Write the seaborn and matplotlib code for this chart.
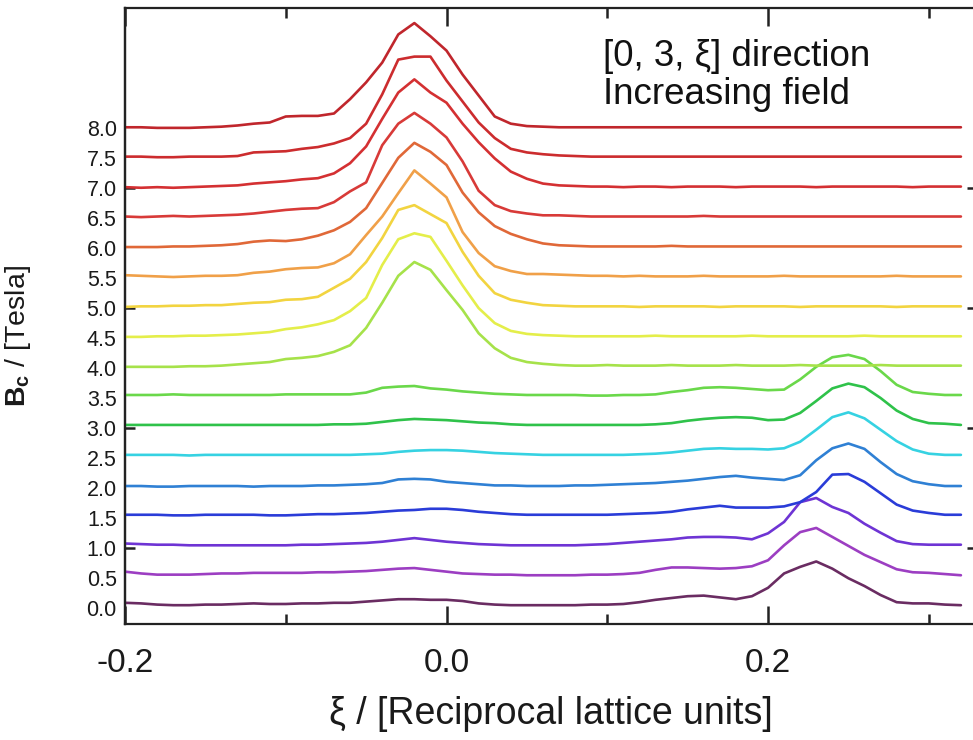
import matplotlib
matplotlib.use("Agg")
import matplotlib.pyplot as plt
import seaborn as sns
import pandas as pd
from matplotlib import font_manager

# ---------------- data ----------------
xi = [-0.20, -0.19, -0.18, -0.17, -0.16, -0.15, -0.14, -0.13, -0.12, -0.11,
      -0.10, -0.09, -0.08, -0.07, -0.06, -0.05, -0.04, -0.03, -0.02, -0.01,
      0.00, 0.01, 0.02, 0.03, 0.04, 0.05, 0.06, 0.07, 0.08, 0.09,
      0.10, 0.11, 0.12, 0.13, 0.14, 0.15, 0.16, 0.17, 0.18, 0.19,
      0.20, 0.21, 0.22, 0.23, 0.24, 0.25, 0.26, 0.27, 0.28, 0.29,
      0.30, 0.31, 0.32]

fields = [0.0, 0.5, 1.0, 1.5, 2.0, 2.5, 3.0, 3.5, 4.0,
          4.5, 5.0, 5.5, 6.0, 6.5, 7.0, 7.5, 8.0]

I_00 = [0.08, 0.07, 0.05, 0.04, 0.04, 0.05, 0.05, 0.06, 0.07, 0.06,
        0.06, 0.07, 0.07, 0.08, 0.08, 0.10, 0.12, 0.14, 0.14, 0.13,
        0.13, 0.11, 0.07, 0.05, 0.04, 0.04, 0.04, 0.04, 0.04, 0.05,
        0.05, 0.06, 0.09, 0.13, 0.16, 0.19, 0.20, 0.17, 0.14, 0.19,
        0.33, 0.57, 0.68, 0.77, 0.65, 0.49, 0.36, 0.21, 0.09, 0.07,
        0.07, 0.05, 0.04]
I_05 = [0.10, 0.07, 0.05, 0.05, 0.05, 0.06, 0.07, 0.07, 0.08, 0.08,
        0.08, 0.08, 0.09, 0.09, 0.10, 0.11, 0.13, 0.15, 0.16, 0.13,
        0.10, 0.07, 0.06, 0.05, 0.05, 0.04, 0.04, 0.04, 0.04, 0.05,
        0.05, 0.06, 0.08, 0.13, 0.17, 0.17, 0.16, 0.15, 0.16, 0.19,
        0.29, 0.54, 0.76, 0.83, 0.68, 0.53, 0.38, 0.26, 0.14, 0.09,
        0.08, 0.06, 0.04]
I_10 = [0.07, 0.06, 0.05, 0.05, 0.04, 0.04, 0.04, 0.04, 0.04, 0.04,
        0.04, 0.05, 0.05, 0.06, 0.07, 0.08, 0.10, 0.13, 0.16, 0.13,
        0.10, 0.08, 0.06, 0.05, 0.04, 0.04, 0.04, 0.04, 0.04, 0.05,
        0.06, 0.08, 0.10, 0.12, 0.14, 0.17, 0.18, 0.18, 0.17, 0.14,
        0.24, 0.43, 0.76, 0.83, 0.68, 0.58, 0.40, 0.25, 0.11, 0.06,
        0.05, 0.05, 0.05]
I_15 = [0.05, 0.05, 0.05, 0.04, 0.04, 0.05, 0.05, 0.05, 0.05, 0.04,
        0.04, 0.05, 0.06, 0.06, 0.07, 0.08, 0.10, 0.12, 0.13, 0.15,
        0.15, 0.13, 0.10, 0.08, 0.06, 0.05, 0.05, 0.05, 0.05, 0.05,
        0.05, 0.06, 0.07, 0.08, 0.10, 0.14, 0.17, 0.20, 0.17, 0.17,
        0.17, 0.19, 0.26, 0.43, 0.72, 0.73, 0.60, 0.41, 0.22, 0.12,
        0.08, 0.05, 0.05]
I_20 = [0.03, 0.03, 0.02, 0.02, 0.03, 0.03, 0.03, 0.03, 0.02, 0.03,
        0.03, 0.03, 0.04, 0.04, 0.05, 0.06, 0.08, 0.14, 0.15, 0.14,
        0.10, 0.08, 0.06, 0.04, 0.04, 0.03, 0.03, 0.03, 0.04, 0.04,
        0.05, 0.06, 0.07, 0.08, 0.10, 0.12, 0.15, 0.18, 0.20, 0.17,
        0.15, 0.13, 0.21, 0.46, 0.66, 0.74, 0.65, 0.43, 0.23, 0.11,
        0.06, 0.03, 0.03]
I_25 = [0.05, 0.05, 0.05, 0.05, 0.04, 0.05, 0.05, 0.05, 0.05, 0.05,
        0.05, 0.05, 0.05, 0.05, 0.05, 0.06, 0.07, 0.10, 0.12, 0.13,
        0.13, 0.12, 0.10, 0.08, 0.07, 0.06, 0.05, 0.05, 0.05, 0.05,
        0.05, 0.05, 0.06, 0.07, 0.09, 0.12, 0.15, 0.16, 0.15, 0.15,
        0.14, 0.16, 0.27, 0.47, 0.68, 0.76, 0.66, 0.47, 0.28, 0.14,
        0.07, 0.05, 0.05]
I_30 = [0.05, 0.05, 0.05, 0.05, 0.05, 0.05, 0.05, 0.05, 0.05, 0.05,
        0.05, 0.05, 0.05, 0.06, 0.06, 0.07, 0.10, 0.13, 0.15, 0.14,
        0.13, 0.11, 0.09, 0.08, 0.06, 0.05, 0.05, 0.05, 0.05, 0.05,
        0.05, 0.05, 0.05, 0.06, 0.08, 0.12, 0.15, 0.17, 0.18, 0.17,
        0.13, 0.14, 0.25, 0.45, 0.66, 0.74, 0.68, 0.50, 0.29, 0.15,
        0.08, 0.07, 0.05]
I_35 = [0.05, 0.05, 0.05, 0.06, 0.05, 0.05, 0.05, 0.05, 0.05, 0.05,
        0.06, 0.06, 0.06, 0.06, 0.06, 0.09, 0.17, 0.19, 0.20, 0.16,
        0.14, 0.11, 0.09, 0.07, 0.06, 0.05, 0.05, 0.05, 0.05, 0.04,
        0.04, 0.05, 0.05, 0.06, 0.10, 0.13, 0.17, 0.18, 0.17, 0.15,
        0.13, 0.14, 0.31, 0.52, 0.68, 0.72, 0.65, 0.45, 0.22, 0.10,
        0.07, 0.05, 0.05]
I_40 = [0.02, 0.02, 0.02, 0.02, 0.03, 0.03, 0.04, 0.06, 0.08, 0.10,
        0.15, 0.17, 0.20, 0.27, 0.38, 0.67, 1.09, 1.54, 1.77, 1.64,
        1.30, 0.97, 0.58, 0.33, 0.17, 0.10, 0.07, 0.05, 0.04, 0.04,
        0.05, 0.04, 0.04, 0.04, 0.05, 0.04, 0.04, 0.04, 0.05, 0.04,
        0.04, 0.04, 0.05, 0.04, 0.04, 0.04, 0.04, 0.05, 0.04, 0.04,
        0.04, 0.04, 0.04]
I_45 = [0.02, 0.02, 0.03, 0.03, 0.04, 0.04, 0.05, 0.06, 0.08, 0.10,
        0.15, 0.18, 0.23, 0.30, 0.45, 0.67, 1.22, 1.65, 1.75, 1.69,
        1.29, 0.88, 0.50, 0.25, 0.12, 0.07, 0.05, 0.04, 0.03, 0.03,
        0.03, 0.03, 0.03, 0.04, 0.03, 0.03, 0.03, 0.03, 0.03, 0.04,
        0.03, 0.03, 0.03, 0.03, 0.03, 0.03, 0.04, 0.03, 0.03, 0.03,
        0.03, 0.03, 0.03]
I_50 = [0.02, 0.03, 0.03, 0.04, 0.04, 0.05, 0.05, 0.07, 0.09, 0.10,
        0.14, 0.15, 0.19, 0.34, 0.49, 0.77, 1.17, 1.64, 1.72, 1.57,
        1.42, 0.94, 0.54, 0.25, 0.14, 0.09, 0.05, 0.04, 0.03, 0.03,
        0.03, 0.03, 0.02, 0.03, 0.03, 0.03, 0.03, 0.02, 0.03, 0.03,
        0.03, 0.03, 0.02, 0.03, 0.03, 0.03, 0.03, 0.03, 0.02, 0.03,
        0.03, 0.03, 0.03]
I_55 = [0.05, 0.04, 0.03, 0.02, 0.03, 0.04, 0.04, 0.05, 0.09, 0.11,
        0.15, 0.17, 0.18, 0.25, 0.40, 0.72, 1.03, 1.42, 1.80, 1.58,
        1.35, 0.77, 0.42, 0.20, 0.12, 0.07, 0.07, 0.06, 0.05, 0.04,
        0.04, 0.03, 0.04, 0.03, 0.03, 0.03, 0.04, 0.03, 0.03, 0.03,
        0.03, 0.04, 0.03, 0.03, 0.03, 0.03, 0.03, 0.03, 0.04, 0.03,
        0.03, 0.03, 0.03]
I_60 = [0.02, 0.02, 0.02, 0.03, 0.03, 0.04, 0.05, 0.07, 0.11, 0.13,
        0.12, 0.15, 0.21, 0.30, 0.44, 0.67, 1.09, 1.51, 1.76, 1.61,
        1.39, 0.93, 0.60, 0.37, 0.24, 0.15, 0.08, 0.05, 0.04, 0.03,
        0.03, 0.03, 0.03, 0.03, 0.04, 0.03, 0.03, 0.03, 0.03, 0.03,
        0.03, 0.03, 0.03, 0.03, 0.03, 0.03, 0.03, 0.03, 0.03, 0.03,
        0.03, 0.03, 0.03]
I_65 = [0.03, 0.02, 0.03, 0.04, 0.03, 0.04, 0.05, 0.06, 0.08, 0.11,
        0.14, 0.16, 0.17, 0.27, 0.45, 0.60, 1.22, 1.58, 1.76, 1.58,
        1.35, 0.95, 0.46, 0.22, 0.12, 0.08, 0.05, 0.05, 0.04, 0.03,
        0.03, 0.03, 0.03, 0.03, 0.03, 0.03, 0.04, 0.03, 0.03, 0.03,
        0.03, 0.03, 0.03, 0.03, 0.03, 0.03, 0.03, 0.03, 0.03, 0.03,
        0.03, 0.03, 0.03]
I_70 = [0.02, 0.01, 0.02, 0.01, 0.02, 0.03, 0.04, 0.05, 0.08, 0.10,
        0.12, 0.15, 0.17, 0.25, 0.42, 0.70, 1.16, 1.60, 1.82, 1.60,
        1.43, 1.08, 0.77, 0.50, 0.28, 0.16, 0.08, 0.05, 0.04, 0.03,
        0.03, 0.02, 0.03, 0.03, 0.02, 0.03, 0.03, 0.03, 0.02, 0.03,
        0.03, 0.03, 0.03, 0.02, 0.03, 0.03, 0.03, 0.03, 0.03, 0.02,
        0.03, 0.03, 0.03]
I_75 = [0.03, 0.03, 0.02, 0.02, 0.03, 0.03, 0.03, 0.04, 0.10, 0.11,
        0.12, 0.16, 0.19, 0.25, 0.34, 0.58, 1.07, 1.65, 1.70, 1.70,
        1.30, 0.95, 0.60, 0.34, 0.16, 0.10, 0.07, 0.05, 0.04, 0.03,
        0.03, 0.03, 0.03, 0.03, 0.03, 0.03, 0.03, 0.03, 0.03, 0.03,
        0.03, 0.03, 0.03, 0.03, 0.03, 0.03, 0.03, 0.03, 0.03, 0.03,
        0.03, 0.03, 0.03]
I_80 = [0.02, 0.02, 0.01, 0.01, 0.01, 0.02, 0.03, 0.05, 0.08, 0.10,
        0.20, 0.21, 0.21, 0.25, 0.49, 0.77, 1.10, 1.57, 1.76, 1.54,
        1.30, 0.90, 0.55, 0.20, 0.08, 0.04, 0.03, 0.02, 0.02, 0.02,
        0.02, 0.02, 0.02, 0.02, 0.02, 0.02, 0.02, 0.02, 0.02, 0.02,
        0.02, 0.02, 0.02, 0.02, 0.02, 0.02, 0.02, 0.02, 0.02, 0.02,
        0.02, 0.02, 0.02]

curves = [I_00, I_05, I_10, I_15, I_20, I_25, I_30, I_35, I_40,
          I_45, I_50, I_55, I_60, I_65, I_70, I_75, I_80]

colors = ["#6a2c62", "#9c3ec2", "#6e34d4", "#2a3cd8", "#2f80d4", "#36d2e2",
          "#2fc24a", "#6ad84a", "#a6e24a", "#e4ee4a", "#f2d440", "#f0a048",
          "#e06838", "#d83a38", "#d43032", "#cc2c2e", "#c0262c"]

y_tick_labels = [f"{f:.1f}" for f in fields]
x_major = [-0.2, 0.0, 0.2]
x_major_labels = ["-0.2", "0.0", "0.2"]
x_minor = [-0.1, 0.1, 0.3]

# ---------------- long table ----------------
rows = []
for f, vals in zip(fields, curves):
    for x, v in zip(xi, vals):
        rows.append({"xi": x, "B": f + v, "field": f})
df = pd.DataFrame(rows)

# ---------------- style ----------------
sns.set_theme(style="white")
plt.rcParams["font.family"] = ["Liberation Sans", "DejaVu Sans"]
plt.rcParams["mathtext.fontset"] = "custom"
plt.rcParams["mathtext.rm"] = "Liberation Sans"
plt.rcParams["mathtext.bf"] = "Liberation Sans:bold"
plt.rcParams["mathtext.it"] = "Liberation Sans:italic"

names = {f.name for f in font_manager.fontManager.ttflist}
has_narrow = "Liberation Sans Narrow" in names
narrow = "Liberation Sans Narrow" if has_narrow else "Liberation Sans"
xtick_size = 28 if has_narrow else 24
xlabel_size = 31 if has_narrow else 27

W, H = 973, 740
fig = plt.figure(figsize=(W / 100, H / 100), dpi=100)
L, R, T, B = 125, 977, 7.5, 624
ax = fig.add_axes([L / W, (H - B) / H, (R - L) / W, (B - T) / H])

sns.lineplot(data=df, x="xi", y="B", hue="field", hue_order=fields,
             palette=dict(zip(fields, colors)), estimator=None, sort=False,
             legend=False, linewidth=1.9, ax=ax)

ax.set_xlim(-0.2, 0.33)
ax.set_ylim(-0.274, 10.02)

for s in ax.spines.values():
    s.set_linewidth(1.6)
    s.set_color("#222222")

# x ticks
ax.set_xticks(x_major)
ax.set_xticklabels(x_major_labels)
ax.set_xticks(x_minor, minor=True)
ax.tick_params(axis="x", which="major", direction="in", length=13, width=1.8,
               top=True, bottom=True, labelsize=xtick_size, pad=17,
               color="#222222", labelcolor="#1a1a1a")
ax.tick_params(axis="x", which="minor", direction="in", length=7, width=1.8,
               top=True, bottom=True, color="#222222")
for lbl in ax.get_xticklabels():
    lbl.set_fontfamily([narrow, "DejaVu Sans"])

# y ticks: labels every 0.5, long marks at even, short marks at odd
ax.set_yticks(fields)
ax.set_yticklabels(y_tick_labels)
ax.tick_params(axis="y", which="major", length=0, labelsize=15.5, pad=6,
               labelcolor="#1a1a1a")
ax.set_yticks([0, 2, 4, 6, 8], minor=True)
ax.tick_params(axis="y", which="minor", direction="in", length=13, width=1.8,
               left=True, right=True, color="#222222")
for side in ("left", "right"):
    sec = ax.secondary_yaxis(side)
    sec.set_yticks([1, 3, 5, 7])
    sec.set_yticklabels([])
    sec.tick_params(direction="in", length=7, width=1.8, color="#222222")
    sec.spines[side].set_linewidth(1.6)
    sec.spines[side].set_color("#222222")

ax.set_xlabel("ξ / [Reciprocal lattice units]", fontsize=xlabel_size,
              family=[narrow, "DejaVu Sans"], color="#1a1a1a")
ax.xaxis.set_label_coords(0.5, (B - 696) / (B - T))
ax.set_ylabel(r"$\mathbf{B_c}$ / [Tesla]", fontsize=20.5, color="#1a1a1a")
ax.yaxis.set_label_coords((33 - L) / (R - L), (B - 336) / (B - T))

fig.text(603 / W, 1 - 66 / H, "[0, 3, ξ] direction", fontsize=26.5,
         va="baseline", ha="left", color="#111111")
fig.text(603 / W, 1 - 104 / H, "Increasing field", fontsize=26.5,
         va="baseline", ha="left", color="#111111")

fig.savefig("out.png", dpi=100)
